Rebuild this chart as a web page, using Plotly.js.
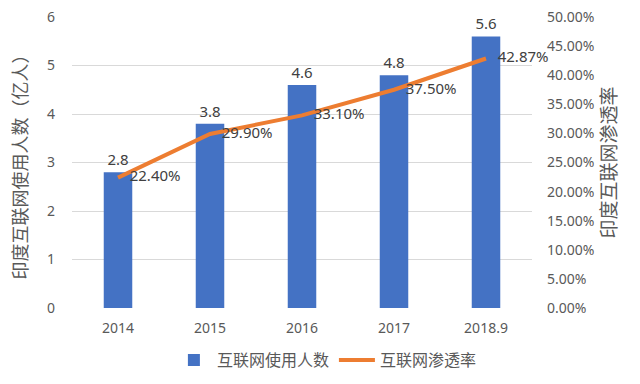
<!DOCTYPE html>
<html><head><meta charset="utf-8">
<script src="https://cdn.plot.ly/plotly-3.0.1.min.js"></script>
<style>body{margin:0;padding:0;background:#fff}#c{width:640px;height:384px}</style>
</head><body><div id="c"></div>
<script>
const categories = ['2014','2015','2016','2017','2018.9'];
const users = [2.8, 3.8, 4.6, 4.8, 5.6];
const penetration = [0.224, 0.299, 0.331, 0.375, 0.4287];
const penetrationLabels = ['22.40%','29.90%','33.10%','37.50%','42.87%'];

const font = '"Noto Sans", "Noto Sans CJK SC", sans-serif';
const cjk = '"Noto Sans CJK SC", sans-serif';
const tc = '#595959';
const pad = '\u00a0\u00a0\u00a0';

const data = [
  {type:'bar', x:categories, y:users, name:'互联网使用人数', marker:{color:'#4472C4'},
   width:0.31, text:users.map(v=>v.toFixed(1)), textposition:'outside', cliponaxis:false,
   textfont:{size:15, color:'#404040', family:font}},
  {type:'scatter', mode:'lines+text', x:categories, y:penetration, yaxis:'y2', name:'互联网渗透率',
   line:{color:'#ED7D31', width:4}, text:penetrationLabels.map(s=>pad+s), textposition:'middle right', cliponaxis:false,
   textfont:{size:15, color:'#404040', family:font}}
];
const layout = {
  width:640, height:384,
  margin:{l:72, r:108, t:17, b:76},
  paper_bgcolor:'#fff', plot_bgcolor:'#fff',
  font:{family:font, color:tc, size:13},
  showlegend:true,
  legend:{orientation:'h', xref:'container', x:0.51, xanchor:'center', yref:'container', y:0.062, yanchor:'middle', itemwidth:36,
    font:{size:16, color:tc, family:cjk}},
  xaxis:{type:'category', showgrid:false, zeroline:false, showline:false, ticks:'', ticklabelstandoff:10,
    tickfont:{size:14, color:tc}},
  yaxis:{range:[0,6], dtick:1, showgrid:true, gridcolor:'#d9d9d9', gridwidth:1, zeroline:false, showline:false,
    tickfont:{size:14, color:tc}, ticks:'', ticklabelstandoff:16,
    title:{text:'印度互联网使用人数（亿人）', font:{size:18, color:tc, family:cjk}, standoff:14}},
  yaxis2:{overlaying:'y', side:'right', range:[0,0.5], dtick:0.05, tickformat:'.2%', showgrid:false, zeroline:false,
    showline:false, ticks:'', tickfont:{size:14, color:tc}, ticklabelstandoff:14,
    title:{text:'印度互联网渗透率', font:{size:19, color:tc, family:cjk}, standoff:8}}
};
Plotly.newPlot('c', data, layout, {displayModeBar:false, staticPlot:true});
</script></body></html>
